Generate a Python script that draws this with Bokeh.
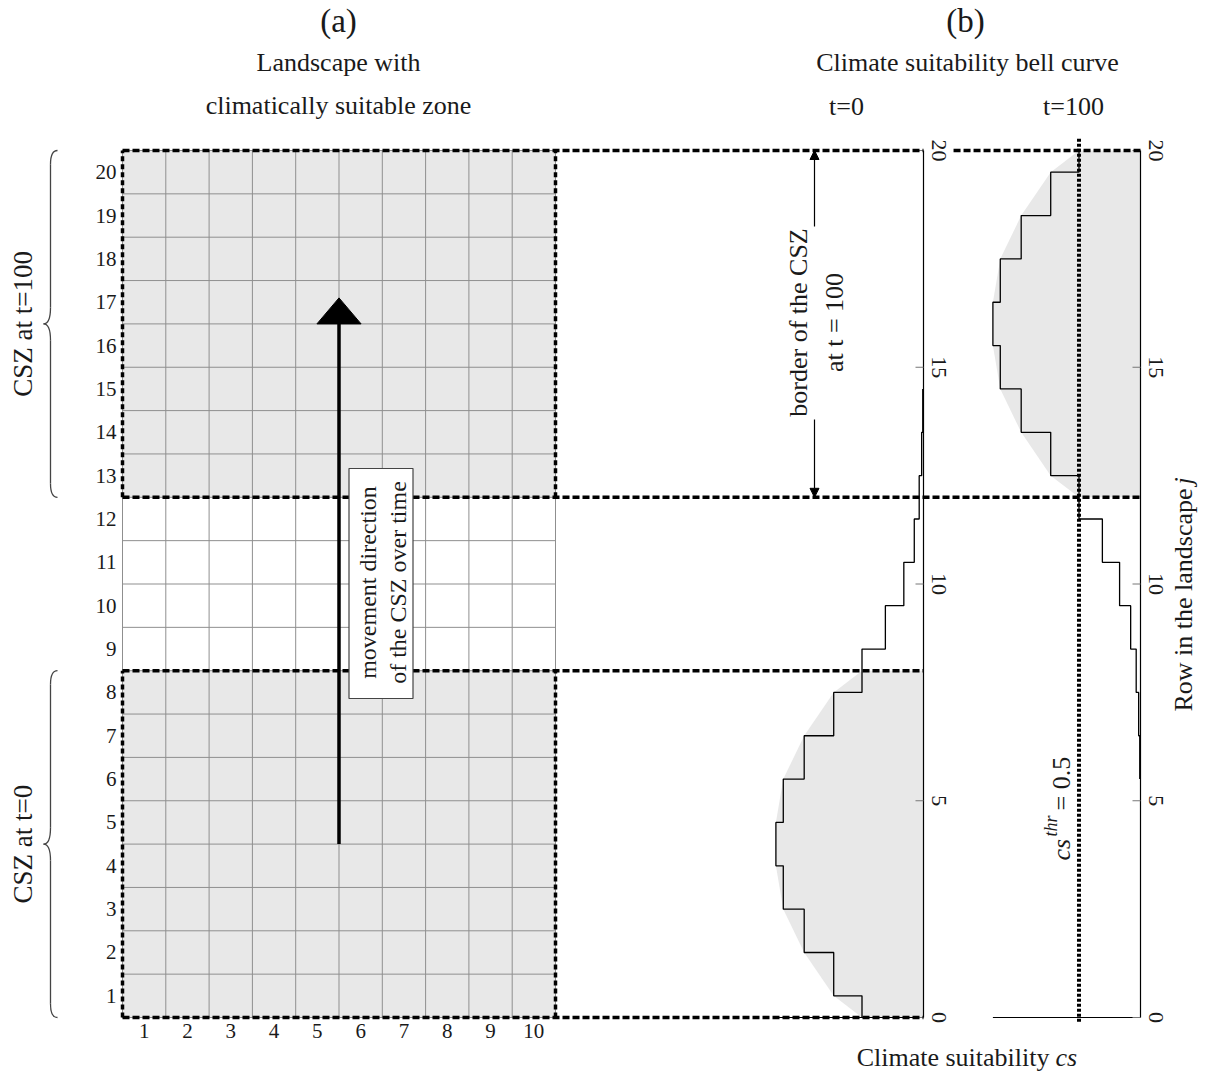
import math
from bokeh.plotting import figure
from bokeh.models import Range1d, Arrow, NormalHead
from bokeh.core.properties import value
from bokeh.embed import file_html
from bokeh.resources import INLINE

# ---------------- data ----------------
n_cols = 10
n_rows = 20
col_labels = [str(i) for i in range(1, n_cols + 1)]
row_labels = [str(j) for j in range(1, n_rows + 1)]
csz_t0 = (0, 8)        # rows 1-8 suitable at t=0
csz_t100 = (12, 20)    # rows 13-20 suitable at t=100
bell_ticks = [0, 5, 10, 15, 20]
cs_threshold = 0.5

# step curve of climate suitability: row position (centre) and cs value
t0_pos = list(range(0, 15))
t0_cs = [0.50, 0.73, 0.97, 1.14, 1.20, 1.14, 0.97, 0.73, 0.50, 0.31, 0.16, 0.075, 0.035, 0.015, 0.006]
t100_pos = list(range(6, 21))
t100_cs = [0.006, 0.015, 0.035, 0.08, 0.17, 0.31, 0.50, 0.73, 0.97, 1.14, 1.20, 1.14, 0.97, 0.73, 0.50]

# smooth bell envelope (shaded)
t0_bell_pos = [0, 0.5, 1.5, 2.5, 3.5, 4.5, 5.5, 6.5, 7.5, 8]
t0_bell_cs = [0.50, 0.73, 0.97, 1.14, 1.20, 1.20, 1.14, 0.97, 0.73, 0.50]
t100_bell_pos = [12, 12.5, 13.5, 14.5, 15.5, 16.5, 17.5, 18.5, 19.5, 20]
t100_bell_cs = [0.50, 0.73, 0.97, 1.14, 1.20, 1.20, 1.14, 0.97, 0.73, 0.50]

# ---------------- layout ----------------
W, H = 1210, 1075
OFF = 0
PX, PY = 43.3, 43.35          # pixels per grid unit
GX0, GY0 = 122, 1017          # picture px of grid origin


def X(px):
    return (px - GX0) / PX


def Y(py):
    return (GY0 - py) / PY


x_start, x_end = X(OFF), X(OFF + W)
y_start, y_end = Y(OFF + H), Y(OFF)
X0_AXIS = X(923)      # cs = 0 for t=0 panel
X100_AXIS = X(1140)   # cs = 0 for t=100 panel
CS_SCALE = 123 / PX   # grid units per cs unit

FONT = value("Liberation Serif")
TXT = "#1a1a1a"
GRAYFILL = "#e8e8e8"
GRIDC = "#8f8f8f"

p = figure(width=W, height=H, x_range=Range1d(x_start, x_end), y_range=Range1d(y_start, y_end),
           output_backend="svg", toolbar_location=None, min_border=0,
           x_axis_location=None, y_axis_location=None, outline_line_color=None)
p.grid.visible = False
p.background_fill_color = "white"
p.border_fill_color = "white"
p.extra_x_ranges = {
    "cs0": Range1d((X0_AXIS - x_start) / CS_SCALE, (X0_AXIS - x_end) / CS_SCALE),
    "cs100": Range1d((X100_AXIS - x_start) / CS_SCALE, (X100_AXIS - x_end) / CS_SCALE),
}

# ---- landscape grid ----
for lo, hi in (csz_t0, csz_t100):
    p.quad(left=0, right=n_cols, bottom=lo, top=hi, fill_color=GRAYFILL, line_color=None)
p.segment(x0=list(range(n_cols + 1)), y0=[0] * (n_cols + 1), x1=list(range(n_cols + 1)),
          y1=[n_rows] * (n_cols + 1), line_color=GRIDC, line_width=1)
p.segment(x0=[0] * (n_rows + 1), y0=list(range(n_rows + 1)), x1=[n_cols] * (n_rows + 1),
          y1=list(range(n_rows + 1)), line_color=GRIDC, line_width=1)


# ---- bell curves ----
def step_path(pos, vals):
    xs, ys = [], []
    for j, v in zip(pos, vals):
        xs += [v, v]
        ys += [max(j - 0.5, 0), min(j + 0.5, n_rows)]
    return xs, ys


for rng, bpos, bcs, pos, vals in (("cs0", t0_bell_pos, t0_bell_cs, t0_pos, t0_cs),
                                  ("cs100", t100_bell_pos, t100_bell_cs, t100_pos, t100_cs)):
    p.patch(x=bcs + [0, 0], y=bpos + [bpos[-1], bpos[0]], fill_color=GRAYFILL, line_color=None,
            x_range_name=rng)
    sx, sy = step_path(pos, vals)
    p.line(x=sx, y=sy, line_color="black", line_width=1.3, x_range_name=rng)
    # axis line, baseline and ticks
    p.segment(x0=[0], y0=[0], x1=[0], y1=[n_rows], line_color="black", line_width=1.2, x_range_name=rng)
    p.segment(x0=[0], y0=[0], x1=[max(vals)], y1=[0], line_color="black", line_width=1.2, x_range_name=rng)
    p.segment(x0=[0] * len(bell_ticks), y0=bell_ticks, x1=[0.065] * len(bell_ticks), y1=bell_ticks,
              line_color="#777777", line_width=1, x_range_name=rng)
    p.text(x=[-0.125] * len(bell_ticks), y=bell_ticks, text=[str(t) for t in bell_ticks],
           angle=-math.pi / 2, text_align="center", text_baseline="middle", text_font=FONT,
           text_font_size="22px", text_color=TXT, x_range_name=rng)

# ---- dashed CSZ borders ----
DASH = dict(line_color="black", line_width=3.5, line_dash="7 3", line_cap="butt")
p.segment(x0=[0, 0, 0, 0], y0=[0, 8, 12, 20], x1=[X0_AXIS, X0_AXIS, X100_AXIS, X0_AXIS],
          y1=[0, 8, 12, 20], **DASH)
p.segment(x0=[1.52], y0=[20], x1=[0], y1=[20], x_range_name="cs100", **DASH)
p.segment(x0=[0, 0, n_cols, n_cols], y0=[0, 12, 0, 12], x1=[0, 0, n_cols, n_cols],
          y1=[8, 20, 8, 20], line_color="black", line_width=3.5, line_dash="5 3", line_cap="butt")

# threshold line
p.segment(x0=[cs_threshold], y0=[-0.1], x1=[cs_threshold], y1=[20.28], line_color="black",
          line_width=4, line_dash="3 2", line_cap="butt", x_range_name="cs100")

# ---- movement arrow ----
ARROW_X, ARROW_Y0, ARROW_Y1, HEAD_TIP, HEAD_HALF = 5.0, 4.0, 16.0, 16.6, 0.51
p.segment(x0=[ARROW_X], y0=[ARROW_Y0], x1=[ARROW_X], y1=[ARROW_Y1 + 0.05], line_color="black", line_width=3.5)
p.patch(x=[ARROW_X - HEAD_HALF, ARROW_X, ARROW_X + HEAD_HALF], y=[ARROW_Y1, HEAD_TIP, ARROW_Y1],
        fill_color="black", line_color="black")

p.rect(x=[X(380.5)], y=[Y(583)], width=64 / PX, height=230 / PY, fill_color="white",
       line_color="#444444", line_width=1.2)
p.text(x=[X(367), X(397)], y=[Y(582), Y(582)], text=["movement direction", "of the CSZ over time"],
       angle=math.pi / 2, text_align="center", text_baseline="middle", text_font=FONT,
       text_font_size="24px", text_color=TXT)

# ---- border of CSZ double arrow ----
BX = X(814)
p.add_layout(Arrow(end=NormalHead(size=9, fill_color="black", line_color="black"), x_start=BX,
                   y_start=Y(226), x_end=BX, y_end=20, line_width=1.2))
p.add_layout(Arrow(end=NormalHead(size=9, fill_color="black", line_color="black"), x_start=BX,
                   y_start=Y(419), x_end=BX, y_end=12, line_width=1.2))
p.text(x=[X(798), X(834)], y=[Y(322), Y(322)], text=["border of the CSZ", "at t = 100"],
       angle=math.pi / 2, text_align="center", text_baseline="middle", text_font=FONT,
       text_font_size="26px", text_color=TXT)

# ---- braces ----
def brace(y0, y1, xt, xe):
    xm = (xt + xe) / 2
    ym = (y0 + y1) / 2
    d, e = 0.32, 0.38
    p.quadratic(x0=[xe, xm, xt, xm], y0=[y1, ym + e, ym, y0 + d],
                x1=[xm, xt, xm, xe], y1=[y1 - d, ym, ym - e, y0],
                cx=[xm, xm, xm, xm], cy=[y1, ym, ym, y0], line_color="#444444", line_width=1.3)
    p.segment(x0=[xm, xm], y0=[y1 - d, ym - e], x1=[xm, xm], y1=[ym + e, y0 + d],
              line_color="#444444", line_width=1.3)


brace(csz_t100[0], csz_t100[1], X(43), X(57))
brace(csz_t0[0], csz_t0[1], X(43), X(57))
p.text(x=[X(22), X(22)], y=[sum(csz_t100) / 2, sum(csz_t0) / 2], text=["CSZ at t=100", "CSZ at t=0"],
       angle=math.pi / 2, text_align="center", text_baseline="middle", text_font=FONT,
       text_font_size="27px", text_color=TXT)

# ---- grid labels ----
p.text(x=[X(116)] * n_rows, y=[j - 0.5 for j in range(1, n_rows + 1)], text=row_labels,
       text_align="right", text_baseline="middle", text_font=FONT, text_font_size="21px", text_color=TXT)
p.text(x=[i - 0.5 for i in range(1, n_cols + 1)], y=[Y(1030)] * n_cols, text=col_labels,
       text_align="center", text_baseline="middle", text_font=FONT, text_font_size="21px", text_color=TXT)

# ---- titles ----
p.text(x=[X(338), X(965)], y=[Y(20), Y(20)], text=["(a)", "(b)"], text_align="center",
       text_baseline="middle", text_font=FONT, text_font_size="33px", text_color=TXT)
p.text(x=[X(338), X(338), X(967), X(846), X(1073)], y=[Y(62), Y(105), Y(62), Y(106), Y(106)],
       text=["Landscape with", "climatically suitable zone", "Climate suitability bell curve", "t=0", "t=100"],
       text_align="center", text_baseline="middle", text_font=FONT, text_font_size="26px", text_color=TXT)

# ---- axis titles ----
p.text(x=[X(1049)], y=[Y(1057)], text=["Climate suitability"], text_align="right", text_baseline="middle",
       text_font=FONT, text_font_size="26px", text_color=TXT)
p.text(x=[X(1055)], y=[Y(1057)], text=["cs"], text_align="left", text_baseline="middle",
       text_font=FONT, text_font_style="italic", text_font_size="26px", text_color=TXT)
p.text(x=[X(1183)], y=[Y(488)], text=["Row in the landscape"], angle=math.pi / 2, text_align="right",
       text_baseline="middle", text_font=FONT, text_font_size="26px", text_color=TXT)
p.text(x=[X(1183)], y=[Y(484)], text=["j"], angle=math.pi / 2, text_align="left",
       text_baseline="middle", text_font=FONT, text_font_style="italic", text_font_size="26px", text_color=TXT)

# cs^thr = 0.5
p.text(x=[X(1061)], y=[Y(860)], text=["cs"], angle=math.pi / 2, text_align="left", text_baseline="middle",
       text_font=FONT, text_font_style="italic", text_font_size="26px", text_color=TXT)
p.text(x=[X(1050)], y=[Y(836)], text=["thr"], angle=math.pi / 2, text_align="left", text_baseline="middle",
       text_font=FONT, text_font_style="italic", text_font_size="18px", text_color=TXT)
p.text(x=[X(1061)], y=[Y(810)], text=["= 0.5"], angle=math.pi / 2, text_align="left", text_baseline="middle",
       text_font=FONT, text_font_size="26px", text_color=TXT)

open("out.html", "w").write(file_html(p, INLINE))
